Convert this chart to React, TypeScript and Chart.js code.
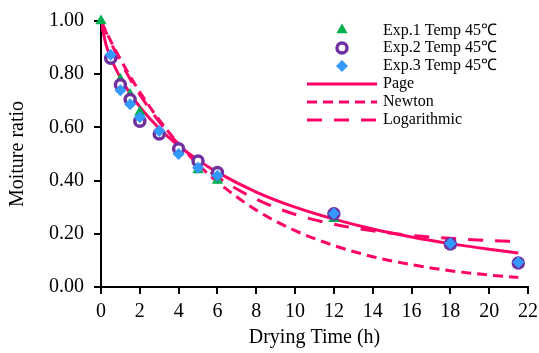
import React, { useEffect, useRef } from "react";
import { Chart, registerables } from "chart.js";

Chart.register(...registerables);

// Experimental drying times (h)
const expTime = [0, 0.5, 1, 1.5, 2, 3, 4, 5, 6, 12, 18, 21.5];
const exp1 = [1.0, 0.865, 0.78, 0.724, 0.657, 0.58, 0.51, 0.44, 0.4, 0.257, 0.155, 0.085];
const exp2 = [null, 0.86, 0.76, 0.705, 0.623, 0.575, 0.52, 0.474, 0.43, 0.275, 0.162, 0.09];
const exp3 = [null, 0.873, 0.74, 0.687, 0.638, 0.586, 0.5, 0.448, 0.418, 0.276, 0.164, 0.093];

// Model curves
const curveTime = [0, 0.25, 0.5, 1, 1.5, 2, 3, 4, 5, 6, 8, 10, 12, 14, 16, 18, 20, 21.5];
const pageCurve = [1.0, 0.913, 0.862, 0.787, 0.727, 0.677, 0.596, 0.531, 0.477, 0.431, 0.357, 0.3, 0.255, 0.218, 0.188, 0.163, 0.142, 0.128];
const newtonCurve = [1.0, 0.962, 0.925, 0.856, 0.792, 0.733, 0.628, 0.538, 0.461, 0.395, 0.289, 0.212, 0.156, 0.114, 0.084, 0.061, 0.045, 0.036];
const logCurve = [1.0, 0.959, 0.92, 0.848, 0.782, 0.723, 0.621, 0.537, 0.469, 0.413, 0.33, 0.273, 0.236, 0.211, 0.194, 0.183, 0.175, 0.171];

const seriesLabels = ["Exp.1 Temp 45\u2103", "Exp.2 Temp 45\u2103", "Exp.3 Temp 45\u2103", "Page", "Newton", "Logarithmic"];

const GREEN = "#00B050";
const PURPLE = "#7030A0";
const BLUE = "#3399FF";
const PINK = "#FF0066";
const FONT = "'Liberation Serif', 'Times New Roman', serif";

const toPts = (xs: number[], ys: (number | null)[]) =>
  xs.map((x, i) => ({ x, y: ys[i] })).filter((p) => p.y !== null);

const legendPlugin = {
  id: "customLegend",
  afterDraw(chart: any) {
    const ctx = chart.ctx;
    const rows = [31, 48, 66, 84, 102, 120];
    const markX = 342;
    const x0 = 307;
    const x1 = 377;
    const textX = 383;
    ctx.save();
    ctx.font = `16px ${FONT}`;
    ctx.fillStyle = "#000";
    ctx.textBaseline = "middle";
    ctx.textAlign = "left";
    rows.forEach((y, i) => {
      ctx.fillText(seriesLabels[i], textX, y);
    });
    // triangle
    let y = rows[0] - 1;
    let r = 6.5;
    ctx.fillStyle = GREEN;
    ctx.beginPath();
    ctx.moveTo(markX, y - r);
    ctx.lineTo(markX + r * Math.sin((2 * Math.PI) / 3), y - r * Math.cos((2 * Math.PI) / 3));
    ctx.lineTo(markX - r * Math.sin((2 * Math.PI) / 3), y - r * Math.cos((2 * Math.PI) / 3));
    ctx.closePath();
    ctx.fill();
    // circle
    y = rows[1];
    ctx.beginPath();
    ctx.arc(markX, y, 5, 0, Math.PI * 2);
    ctx.fillStyle = "#fff";
    ctx.fill();
    ctx.lineWidth = 3.5;
    ctx.strokeStyle = PURPLE;
    ctx.stroke();
    // diamond
    y = rows[2];
    r = 6;
    ctx.beginPath();
    ctx.moveTo(markX, y - r);
    ctx.lineTo(markX + r, y);
    ctx.lineTo(markX, y + r);
    ctx.lineTo(markX - r, y);
    ctx.closePath();
    ctx.fillStyle = BLUE;
    ctx.fill();
    // lines
    const dashes = [[], [10, 6], [15, 12]];
    [3, 4, 5].forEach((ri, k) => {
      ctx.beginPath();
      ctx.setLineDash(dashes[k]);
      ctx.strokeStyle = PINK;
      ctx.lineWidth = 3;
      ctx.moveTo(x0, rows[ri]);
      ctx.lineTo(x1, rows[ri]);
      ctx.stroke();
    });
    ctx.restore();
  },
};

export default function App() {
  const ref = useRef<HTMLCanvasElement | null>(null);
  useEffect(() => {
    if (!ref.current) return;
    const chart = new Chart(ref.current, {
      type: "scatter",
      data: {
        datasets: [
          {
            label: seriesLabels[0],
            data: toPts(expTime, exp1),
            pointStyle: "triangle",
            pointRadius: 6.5,
            backgroundColor: GREEN,
            borderColor: GREEN,
            borderWidth: 0,
            order: 2,
            clip: false,
          } as any,
          {
            label: seriesLabels[1],
            data: toPts(expTime, exp2),
            pointStyle: "circle",
            pointRadius: 5,
            backgroundColor: "#fff",
            borderColor: PURPLE,
            borderWidth: 3.5,
            order: 1,
            clip: false,
          },
          {
            label: seriesLabels[2],
            data: toPts(expTime, exp3),
            pointStyle: "rectRot",
            pointRadius: 6,
            backgroundColor: BLUE,
            borderColor: BLUE,
            borderWidth: 0,
            order: 0,
            clip: false,
          },
          {
            label: seriesLabels[3],
            data: toPts(curveTime, pageCurve),
            showLine: true,
            pointRadius: 0,
            borderColor: PINK,
            borderWidth: 3,
            cubicInterpolationMode: "monotone",
            order: 3,
          },
          {
            label: seriesLabels[4],
            data: toPts(curveTime, newtonCurve),
            showLine: true,
            pointRadius: 0,
            borderColor: PINK,
            borderWidth: 3,
            borderDash: [10, 6],
            cubicInterpolationMode: "monotone",
            order: 4,
          },
          {
            label: seriesLabels[5],
            data: toPts(curveTime, logCurve),
            showLine: true,
            pointRadius: 0,
            borderColor: PINK,
            borderWidth: 3,
            borderDash: [15, 12],
            cubicInterpolationMode: "monotone",
            order: 5,
          },
        ],
      },
      options: {
        animation: false,
        responsive: false,
        devicePixelRatio: 1,
        layout: { padding: { top: 21, right: 0, left: 0, bottom: 0 } },
        plugins: { legend: { display: false }, tooltip: { enabled: false } },
        scales: {
          x: {
            type: "linear",
            min: 0,
            max: 22,
            afterFit: (s: any) => {
              s.height = 66;
              s.paddingRight = 11;
              s.paddingLeft = 0;
            },
            ticks: {
              stepSize: 2,
              color: "#000",
              padding: 6,
              font: { family: FONT, size: 20 },
              maxRotation: 0,
            },
            grid: { drawOnChartArea: false, drawTicks: true, tickLength: 7, color: "#000", lineWidth: 2 },
            border: { display: true, color: "#000", width: 2 },
            title: {
              display: true,
              text: "Drying Time (h)",
              color: "#000",
              font: { family: FONT, size: 20 },
              padding: { top: 0, bottom: 3 },
            },
          },
          y: {
            min: 0,
            max: 1,
            afterFit: (s: any) => {
              s.width = 101;
              s.paddingTop = 0;
              s.paddingBottom = 0;
            },
            ticks: {
              stepSize: 0.2,
              color: "#000",
              padding: 10,
              font: { family: FONT, size: 20 },
              callback: (v: any) => Number(v).toFixed(2),
            },
            grid: { drawOnChartArea: false, drawTicks: true, tickLength: 7, color: "#000", lineWidth: 2 },
            border: { display: true, color: "#000", width: 2 },
            title: {
              display: true,
              text: "Moiture ratio",
              color: "#000",
              font: { family: FONT, size: 20 },
              padding: { top: 6, bottom: 0 },
            },
          },
        },
      },
      plugins: [legendPlugin],
    });
    return () => chart.destroy();
  }, []);
  return (
    <div style={{ position: "absolute", left: 0, top: 0, width: 539, height: 353, background: "#fff" }}>
      <canvas ref={ref} width={539} height={353} />
    </div>
  );
}
